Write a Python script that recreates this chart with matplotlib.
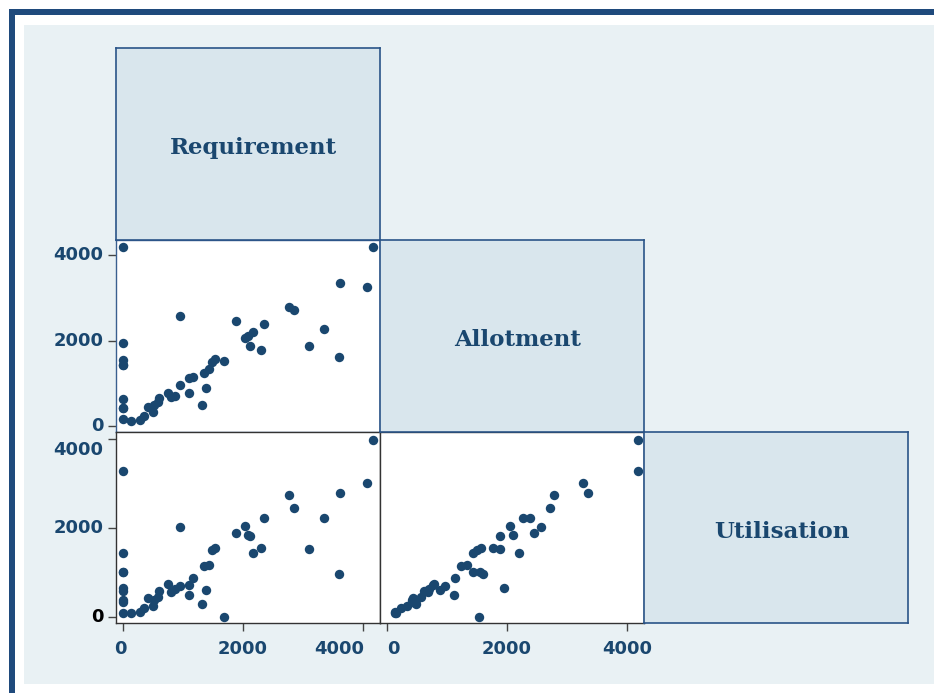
import matplotlib
matplotlib.use("Agg")
import matplotlib.pyplot as plt
from matplotlib.patches import Rectangle
from matplotlib.transforms import blended_transform_factory, offset_copy

requirement = [0, 4170, 4070, 3610, 2770, 2850, 955, 2345, 3350, 2040,
               1883, 2090, 2120, 2305, 2172, 3105, 3600, 1690, 0, 0,
               0, 0, 1533, 1478, 1428, 1350, 1383, 1161, 1094, 1106,
               1316, 950, 872, 800, 744, 606, 578, 522, 494, 411,
               356, 283, 133, 0, 0, 0, 0]
allotment = [4180, 4180, 3260, 3350, 2780, 2710, 2570, 2380, 2270, 2050,
             2448, 2105, 1880, 1770, 2207, 1880, 1605, 1530, 1950, 1545,
             1425, 1425, 1567, 1505, 1326, 1232, 881, 1139, 1115, 764,
             491, 959, 702, 686, 780, 647, 569, 491, 335, 437,
             234, 140, 125, 156, 413, 624, 420]
utilisation = [3274, 3970, 3010, 2790, 2750, 2450, 2025, 2232, 2232, 2053,
               1895, 1835, 1828, 1560, 1438, 1520, 955, 0, 660, 1011,
               1431, 1005, 1558, 1498, 1176, 1139, 599, 884, 487, 727,
               285, 689, 622, 562, 734, 584, 449, 375, 247, 427,
               210, 112, 90, 90, 375, 577, 330]

var_names = ["Requirement", "Allotment", "Utilisation"]
tick_values = [0, 2000, 4000]

NAVY = "#1a476f"
W, H = 934, 693

fig = plt.figure(figsize=(W / 100, H / 100), dpi=100)
fig.patch.set_facecolor("white")


def fx(x):
    return x / W


def fy(y):
    return 1 - y / H


# outer frame and light graph region
fig.patches.append(Rectangle((fx(24), fy(684)), fx(934) - fx(24), fy(25) - fy(684),
                             transform=fig.transFigure, facecolor="#e9f1f4",
                             edgecolor="none", zorder=-3))
fig.patches.append(Rectangle((fx(9), fy(693)), fx(6), fy(9) - fy(693),
                             transform=fig.transFigure, facecolor="#1f4a7c",
                             edgecolor="none", zorder=-2))
fig.patches.append(Rectangle((fx(9), fy(15)), fx(934) - fx(9), fy(9.5) - fy(15),
                             transform=fig.transFigure, facecolor="#1f4a7c",
                             edgecolor="none", zorder=-2))

cols = [(116, 380), (380, 644), (644, 908)]
rows = [(48, 240), (240, 432), (432, 623)]
data = [requirement, allotment, utilisation]
xlims = [(-117, 4283), (-117, 4283), None]
ylims = [None, (-140, 4351), (-135, 4157)]

tick_font = dict(fontsize=13, fontweight="bold", family="DejaVu Sans")
axes = {}
for i in range(3):
    for j in range(i + 1):
        x0, x1 = cols[j]
        y0, y1 = rows[i]
        ax = fig.add_axes([fx(x0), fy(y1), fx(x1) - fx(x0), fy(y0) - fy(y1)])
        ax.set_xticks([])
        ax.set_yticks([])
        if i == j:
            ax.set_facecolor("#d9e6ed")
            for s in ax.spines.values():
                s.set_color("#2a5488")
                s.set_linewidth(1.2)
            ax.set_zorder(3)
            t = offset_copy(ax.transAxes, fig=fig, x=4, y=-3, units="points")
            ax.text(0.5, 0.5, var_names[i], transform=t,
                    ha="center", va="center", color=NAVY, fontsize=16.5,
                    fontweight="bold", family="DejaVu Serif")
        else:
            ax.set_zorder(1)
            ax.set_facecolor("white")
            for s in ax.spines.values():
                s.set_color("#333333" if i == 2 else "#3a5f8f")
                s.set_linewidth(1.0)
            ax.scatter(data[j], data[i], s=46, color=NAVY, linewidths=0,
                       clip_on=False, zorder=2)
            ax.set_xlim(*xlims[j])
            ax.set_ylim(*ylims[i])
        axes[(i, j)] = ax

# y-axis ticks/labels on the first column
for i in (1, 2):
    ax = axes[(i, 0)]
    ax.set_yticks(tick_values)
    ax.set_yticklabels([])
    ax.tick_params(axis="y", length=6, width=1, color="#444444", direction="out")
    tr = blended_transform_factory(ax.transAxes, ax.transData)
    for v in tick_values:
        dy = 0
        color = NAVY
        if i == 2 and v == 4000:
            dy = -8
        if i == 2 and v == 0:
            color = "black"
        t = offset_copy(tr, fig=fig, x=-9, y=dy, units="points")
        ax.text(0, v, f"{v}", transform=t, ha="right", va="center",
                color=color, **tick_font)

# x-axis ticks/labels on the bottom row
for j in (0, 1):
    ax = axes[(2, j)]
    ax.set_xticks(tick_values)
    ax.set_xticklabels([])
    ax.tick_params(axis="x", length=6, width=1, color="#444444", direction="out")
    tr = blended_transform_factory(ax.transData, ax.transAxes)
    for v in tick_values:
        ha, dx = "center", 0
        if j == 0 and v == 0:
            dx = -2
        if j == 0 and v == 4000:
            ha, dx = "right", 1
        if j == 1 and v == 0:
            ha, dx = "left", 0
        t = offset_copy(tr, fig=fig, x=dx, y=-12, units="points")
        ax.text(v, 0, f"{v}", transform=t, ha=ha, va="top",
                color=NAVY, **tick_font)

fig.savefig("out.png", dpi=100, facecolor=fig.get_facecolor())
